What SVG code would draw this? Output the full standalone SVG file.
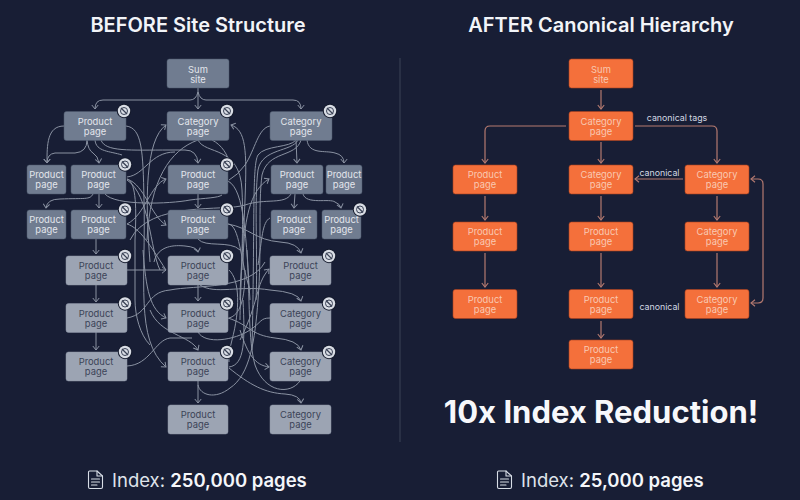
<svg xmlns="http://www.w3.org/2000/svg" width="800" height="500" viewBox="0 0 800 500">
<style>
text{font-family:Inter,"Liberation Sans",sans-serif;text-anchor:middle}
.t{font-size:20px;font-weight:600;fill:#f2f4f8}
.n{font-size:9.4px}
.d rect{fill:#707c90;stroke:#4e5a6e;stroke-width:.5}
.d text{fill:#e3e6ec}
.l rect{fill:#9ca4b3;stroke:#8c95a6;stroke-width:.5}
.l text{fill:#3b4357}
.o rect{fill:#f4703b;stroke:#a83f1e;stroke-width:.6}
.o text{fill:#f9c9b2}
.lc path{fill:none;stroke:#8a92a2;stroke-width:1}
.rc path{fill:none;stroke:#b57a70;stroke-width:1.2}
.cap{font-size:8.8px;fill:#d3d8e2}
.idx{font-size:18.5px;fill:#dfe3ea;text-anchor:start}
.idx tspan{font-weight:600;fill:#f4f6fa}
.doc{fill:none;stroke:#d8dde6;stroke-width:1.1;stroke-linejoin:round;stroke-linecap:round}
</style>
<defs>
<marker id="a" markerWidth="7" markerHeight="8" refX="5.5" refY="4" orient="auto" markerUnits="userSpaceOnUse"><path d="M1.5,.8 L5.5,4 L1.5,7.2" fill="none" stroke="#8a92a2" stroke-width="1"/></marker>
<marker id="b" markerWidth="7" markerHeight="8" refX="5.5" refY="4" orient="auto" markerUnits="userSpaceOnUse"><path d="M1.5,.8 L5.5,4 L1.5,7.2" fill="none" stroke="#b57a70" stroke-width="1.1"/></marker>
<marker id="bs" markerWidth="7" markerHeight="8" refX="1.5" refY="4" orient="auto" markerUnits="userSpaceOnUse"><path d="M5.5,.8 L1.5,4 L5.5,7.2" fill="none" stroke="#b57a70" stroke-width="1.1"/></marker>
<g id="no">
<circle r="7.2" fill="#141a2c"/>
<circle r="6.2" fill="#d9dde5"/>
<circle r="3.5" fill="none" stroke="#3a4256" stroke-width="1"/>
<path d="M-3,-3 L3,3" stroke="#3a4256" stroke-width="1.2"/>
</g>
</defs>
<rect width="800" height="500" fill="#181e35"/>
<path d="M400,58 V442" stroke="#3b4256" stroke-width="1"/>
<text class="t" x="198" y="32">BEFORE Site Structure</text>
<text class="t" x="601" y="32">AFTER Canonical Hierarchy</text>

<g id="before-connectors" class="lc">
<g marker-end="url(#a)">
<path d="M198,88 V109"/>
<path d="M198,92 Q196,100 190,100 H103 Q95,100 95,109"/>
<path d="M198,92 Q200,100 206,100 H293 Q301,100 301,109"/>
<path d="M64,126 C47,126 47,145 47,163"/>
<path d="M87,140 Q87,152 75,153 H55 Q47,154 47,163"/>
<path d="M87,140 Q88,150 93,153 Q98,156 99,163"/>
<path d="M101,140 C105,152 130,150 170,150 H185 Q197,150 198,163"/>
<path d="M126,126 C142,128 143,150 144,200 C146,280 135,340 166,367"/>
<path d="M150,262 C145,200 145,140 166,125"/>
<path d="M240,300 C240,280 243,250 245,200 S246,130 231,125"/>
<path d="M127,224 C145,215 150,185 166,179"/>
<path d="M127,179 C145,185 150,215 166,225"/>
<path d="M127,270 H166"/>
<path d="M96,239 V254"/>
<path d="M96,285 V302"/>
<path d="M96,332 V350"/>
<path d="M198,194 V208"/>
<path d="M198,285 V301"/>
<path d="M198,381 V403"/>
<path d="M99,194 V208"/>
<path d="M93,194 C90,200 85,198 60,199 Q47,199 46,208"/>
<path d="M296,140 L297,163"/>
<path d="M307,140 C309,155 325,150 335,153 Q344,155 344,163"/>
<path d="M295,194 L294,208"/>
<path d="M303,194 C306,205 330,198 335,202 Q340,204 341,208"/>
<path d="M243,270 C243,220 250,190 269,179"/>
<path d="M228,224 C250,228 255,240 280,242 Q298,243 301,253"/>
<path d="M154,262 C158,245 175,245 185,246 Q197,247 198,252"/>
<path d="M240,340 C260,300 255,285 269,269"/>
<path d="M200,285 C215,295 240,285 270,290 Q298,292 301,301"/>
<path d="M143,250 C146,290 150,310 166,318"/>
<path d="M228,318 C250,325 250,335 275,338 Q298,340 301,350"/>
<path d="M150,310 C160,335 190,335 198,350"/>
<path d="M229,368 C250,385 265,393 285,394 Q300,395 301,403"/>
<path d="M240,330 C248,355 255,365 269,367"/>
<path d="M127,224 C140,228 150,245 166,270" marker-end="none"/>
</g>
<path d="M95,140 C96,152 110,151 122,155"/>
<path d="M127,177 C145,175 150,152 175,152"/>
<path d="M127,179 C135,182 137,200 135,240 V300 C135,315 140,335 150,345"/>
<path d="M127,180 C150,195 150,250 160,270"/>
<path d="M105,194 C115,206 170,204 190,200 C205,198 218,198 222,195"/>
<path d="M198,140 C170,150 150,180 147,240"/>
<path d="M198,140 C205,155 240,145 242,190 C244,230 240,300 240,320"/>
<path d="M212,140 C222,145 228,155 230,165"/>
<path d="M270,126 C258,128 255,150 245,165 Q238,175 229,180"/>
<path d="M296,140 C290,148 265,145 258,155 C252,165 255,220 252,350"/>
<path d="M298,140 C292,152 262,148 258,170 C254,200 258,260 256,300"/>
<path d="M301,140 C296,158 268,150 262,175 C258,205 262,250 258,300"/>
<path d="M291,194 C285,205 265,198 245,205 C225,212 150,200 130,240"/>
<path d="M228,181 C245,190 246,240 250,300"/>
<path d="M228,224 C240,225 240,260 250,290"/>
<path d="M229,270 C240,280 240,310 232,340 Q228,355 229,362"/>
<path d="M198,239 C205,248 230,240 240,250"/>
<path d="M270,218 C262,222 262,240 258,265"/>
<path d="M127,318 C150,314 145,292 170,290 C195,285 250,290 265,262"/>
<path d="M198,332 C205,345 235,340 250,330 C262,322 260,318 270,318"/>
<path d="M127,366 C150,365 155,340 170,338 L192,338"/>
<path d="M198,385 C200,395 215,400 230,388 C250,375 255,340 258,300"/>
<path d="M300,381 C290,395 265,393 255,365 C248,340 250,300 247,250"/>
<path d="M229,367 C245,365 245,340 243,300"/>
<path d="M229,318 C240,315 245,300 245,270"/>
</g>

<g id="b-sum" class="d"><rect x="167" y="59" width="62" height="29" rx="2.5"/><text class="n" x="198" y="72.7">Sum</text><text class="n" x="198" y="82.5">site</text></g>
<g id="b-r1a" class="d"><rect x="64" y="111.5" width="62" height="29" rx="2.5"/><text class="n" x="95" y="124.5">Product</text><text class="n" x="95" y="134.5">page</text></g>
<g id="b-r1b" class="d"><rect x="167" y="111.5" width="62" height="29" rx="2.5"/><text class="n" x="198" y="124.5">Category</text><text class="n" x="198" y="134.5">page</text></g>
<g id="b-r1c" class="d"><rect x="270" y="111.5" width="62" height="29" rx="2.5"/><text class="n" x="301" y="124.5">Category</text><text class="n" x="301" y="134.5">page</text></g>
<g id="b-r2a" class="d"><rect x="27" y="165" width="39" height="29" rx="2.5"/><text class="n" x="46.5" y="178">Product</text><text class="n" x="46.5" y="188">page</text></g>
<g id="b-r2b" class="d"><rect x="71" y="165" width="55" height="29" rx="2.5"/><text class="n" x="98.5" y="178">Product</text><text class="n" x="98.5" y="188">page</text></g>
<g id="b-r2c" class="d"><rect x="168" y="165" width="60" height="29" rx="2.5"/><text class="n" x="198" y="178">Product</text><text class="n" x="198" y="188">page</text></g>
<g id="b-r2d" class="d"><rect x="271" y="165" width="52" height="29" rx="2.5"/><text class="n" x="297" y="178">Product</text><text class="n" x="297" y="188">page</text></g>
<g id="b-r2e" class="d"><rect x="326" y="165" width="36" height="29" rx="2.5"/><text class="n" x="344" y="178">Product</text><text class="n" x="344" y="188">page</text></g>
<g id="b-r3a" class="d"><rect x="27" y="210" width="39" height="29" rx="2.5"/><text class="n" x="46.5" y="223">Product</text><text class="n" x="46.5" y="233">page</text></g>
<g id="b-r3b" class="d"><rect x="71" y="210" width="55" height="29" rx="2.5"/><text class="n" x="98.5" y="223">Product</text><text class="n" x="98.5" y="233">page</text></g>
<g id="b-r3c" class="d"><rect x="168" y="210" width="60" height="29" rx="2.5"/><text class="n" x="198" y="223">Product</text><text class="n" x="198" y="233">page</text></g>
<g id="b-r3d" class="d"><rect x="271" y="210" width="46" height="29" rx="2.5"/><text class="n" x="294" y="223">Product</text><text class="n" x="294" y="233">page</text></g>
<g id="b-r3e" class="d"><rect x="322" y="210" width="39" height="29" rx="2.5"/><text class="n" x="341.5" y="223">Product</text><text class="n" x="341.5" y="233">page</text></g>
<g id="b-r4a" class="l"><rect x="66" y="256" width="61" height="29" rx="2.5"/><text class="n" x="96" y="269">Product</text><text class="n" x="96" y="279">page</text></g>
<g id="b-r4b" class="l"><rect x="168" y="256" width="60" height="29" rx="2.5"/><text class="n" x="198" y="269">Product</text><text class="n" x="198" y="279">page</text></g>
<g id="b-r4c" class="l"><rect x="270" y="256" width="61" height="29" rx="2.5"/><text class="n" x="300.5" y="269">Product</text><text class="n" x="300.5" y="279">page</text></g>
<g id="b-r5a" class="l"><rect x="66" y="303.5" width="61" height="29" rx="2.5"/><text class="n" x="96" y="316.5">Product</text><text class="n" x="96" y="326.5">page</text></g>
<g id="b-r5b" class="l"><rect x="168" y="303.5" width="60" height="29" rx="2.5"/><text class="n" x="198" y="316.5">Product</text><text class="n" x="198" y="326.5">page</text></g>
<g id="b-r5c" class="l"><rect x="270" y="303.5" width="61" height="29" rx="2.5"/><text class="n" x="300.5" y="316.5">Category</text><text class="n" x="300.5" y="326.5">page</text></g>
<g id="b-r6a" class="l"><rect x="66" y="352" width="61" height="29" rx="2.5"/><text class="n" x="96" y="365">Product</text><text class="n" x="96" y="375">page</text></g>
<g id="b-r6b" class="l"><rect x="168" y="352" width="60" height="29" rx="2.5"/><text class="n" x="198" y="365">Product</text><text class="n" x="198" y="375">page</text></g>
<g id="b-r6c" class="l"><rect x="270" y="352" width="61" height="29" rx="2.5"/><text class="n" x="300.5" y="365">Category</text><text class="n" x="300.5" y="375">page</text></g>
<g id="b-r7b" class="l"><rect x="168" y="405" width="60" height="29" rx="2.5"/><text class="n" x="198" y="418">Product</text><text class="n" x="198" y="428">page</text></g>
<g id="b-r7c" class="l"><rect x="270" y="405" width="61" height="29" rx="2.5"/><text class="n" x="300.5" y="418">Category</text><text class="n" x="300.5" y="428">page</text></g>

<g id="badges">
<use href="#no" x="124" y="111"/><use href="#no" x="227" y="111"/><use href="#no" x="330" y="111"/>
<use href="#no" x="125" y="164.5"/><use href="#no" x="227" y="164.5"/>
<use href="#no" x="125" y="209.5"/><use href="#no" x="227" y="209.5"/><use href="#no" x="360" y="209.5"/>
<use href="#no" x="125" y="256"/><use href="#no" x="227" y="256"/><use href="#no" x="329" y="256"/>
<use href="#no" x="125" y="303.5"/><use href="#no" x="227" y="303.5"/><use href="#no" x="329" y="303.5"/>
<use href="#no" x="125" y="352"/><use href="#no" x="227" y="352"/><use href="#no" x="329" y="352"/>
</g>

<g id="after-connectors" class="rc">
<g marker-end="url(#b)">
<path d="M601,90 V109"/>
<path d="M566,126 H490 Q485,126 485,131 V163"/>
<path d="M635,126 H712 Q717,126 717,131 V163"/>
<path d="M601,142 V163"/>
<path d="M683,179 H635"/>
<path d="M485,196 V220"/>
<path d="M601,196 V220"/>
<path d="M717,196 V220"/>
<path d="M485,253 V287"/>
<path d="M601,253 V287"/>
<path d="M717,253 V287"/>
<path d="M601,321 V338"/>
<path d="M751,179 H758 Q763,179 763,184 V298 Q763,303 758,303 H751" marker-start="url(#bs)"/>
</g>
</g>
<g id="a-sum" class="o"><rect x="569" y="59" width="64" height="29" rx="2.5"/><text class="n" x="601" y="72.7">Sum</text><text class="n" x="601" y="82.5">site</text></g>
<g id="a-r1" class="o"><rect x="569" y="111.5" width="64" height="29" rx="2.5"/><text class="n" x="601" y="124.5">Category</text><text class="n" x="601" y="134.5">page</text></g>
<g id="a-r2a" class="o"><rect x="453" y="165" width="64" height="29" rx="2.5"/><text class="n" x="485" y="178">Product</text><text class="n" x="485" y="188">page</text></g>
<g id="a-r2b" class="o"><rect x="569" y="165" width="64" height="29" rx="2.5"/><text class="n" x="601" y="178">Category</text><text class="n" x="601" y="188">page</text></g>
<g id="a-r2c" class="o"><rect x="685" y="165" width="64" height="29" rx="2.5"/><text class="n" x="717" y="178">Category</text><text class="n" x="717" y="188">page</text></g>
<g id="a-r3a" class="o"><rect x="453" y="222" width="64" height="29" rx="2.5"/><text class="n" x="485" y="235">Product</text><text class="n" x="485" y="245">page</text></g>
<g id="a-r3b" class="o"><rect x="569" y="222" width="64" height="29" rx="2.5"/><text class="n" x="601" y="235">Product</text><text class="n" x="601" y="245">page</text></g>
<g id="a-r3c" class="o"><rect x="685" y="222" width="64" height="29" rx="2.5"/><text class="n" x="717" y="235">Category</text><text class="n" x="717" y="245">page</text></g>
<g id="a-r4a" class="o"><rect x="453" y="289.5" width="64" height="29" rx="2.5"/><text class="n" x="485" y="302.5">Product</text><text class="n" x="485" y="312.5">page</text></g>
<g id="a-r4b" class="o"><rect x="569" y="289.5" width="64" height="29" rx="2.5"/><text class="n" x="601" y="302.5">Product</text><text class="n" x="601" y="312.5">page</text></g>
<g id="a-r4c" class="o"><rect x="685" y="289.5" width="64" height="29" rx="2.5"/><text class="n" x="717" y="302.5">Category</text><text class="n" x="717" y="312.5">page</text></g>
<g id="a-r5" class="o"><rect x="569" y="340" width="64" height="29" rx="2.5"/><text class="n" x="601" y="353">Product</text><text class="n" x="601" y="363">page</text></g>
<text class="cap" x="677" y="121">canonical tags</text>
<text class="cap" x="659.5" y="176">canonical</text>
<text class="cap" x="659.5" y="310">canonical</text>
<text x="601" y="423" font-size="31" font-weight="700" fill="#f7f8fb">10x Index Reduction!</text>
<g id="doc-before" class="doc"><path d="M89.5,471 H97 L102.5,476 V487 Q102.5,488.5 101,488.5 H90 Q88.5,488.5 88.5,487 V472 Q88.5,471 89.5,471 Z"/><path d="M97,471 V476 H102.5 M91.5,479 H99.5 M91.5,482 H99.5 M91.5,485 H97"/></g>
<text class="idx" x="112" y="487">Index: <tspan>250,000 pages</tspan></text>
<g id="doc-after" class="doc"><path d="M498.5,471 H506 L511.5,476 V487 Q511.5,488.5 510,488.5 H499 Q497.5,488.5 497.5,487 V472 Q497.5,471 498.5,471 Z"/><path d="M506,471 V476 H511.5 M500.5,479 H508.5 M500.5,482 H508.5 M500.5,485 H506"/></g>
<text class="idx" x="521" y="487">Index: <tspan>25,000 pages</tspan></text>
</svg>
